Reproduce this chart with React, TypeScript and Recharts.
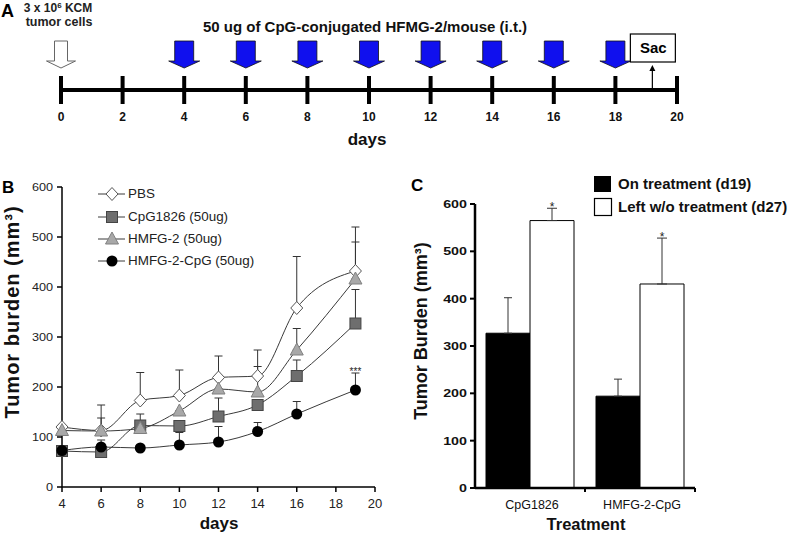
import React from "react";
import {
  Bar,
  BarChart,
  ErrorBar,
  LabelList,
  Line,
  LineChart,
  ReferenceDot,
  Scatter,
  ScatterChart,
  XAxis,
  YAxis,
} from "recharts";

const font = "'Liberation Sans', Arial, Helvetica, sans-serif";

// A: treatment schedule
const scheduleTicks = [0, 2, 4, 6, 8, 10, 12, 14, 16, 18, 20];
const tumorInjectionDays = [0];
const treatmentDays = [4, 6, 8, 10, 12, 14, 16, 18];
const sacrificeDays = [19.2];

// B: tumor growth
const days = [4, 6, 8, 10, 12, 14, 16, 19];
const dayTicks = [4, 6, 8, 10, 12, 14, 16, 18, 20];
const burdenTicks = [0, 100, 200, 300, 400, 500, 600];
const seriesNames = ["PBS", "CpG1826 (50ug)", "HMFG-2 (50ug)", "HMFG-2-CpG (50ug)"];
const pbs = [120, 113, 173, 183, 219, 222, 358, 432];
const pbsErr = [0, 51, 56, 51, 43, 52, 103, 88];
const cpg1826 = [72, 70, 123, 122, 141, 164, 222, 327];
const cpg1826Err = [0, 0, 23, 0, 37, 0, 32, 68];
const hmfg2 = [113, 112, 117, 152, 196, 190, 274, 416];
const hmfg2Err = [0, 26, 0, 0, 0, 51, 43, 74];
const hmfg2Cpg = [73, 80, 78, 84, 90, 111, 146, 194];
const hmfg2CpgErr = [0, 14, 0, 25, 31, 18, 25, 34];

// C: tumor burden by treatment
const treatments = ["CpG1826", "HMFG-2-CpG"];
const onTreatment = [327, 194];
const onTreatmentErr = [75, 36];
const leftUntreated = [565, 431];
const leftUntreatedErr = [26, 97];
const barTicks = [0, 100, 200, 300, 400, 500, 600];
const barSeriesNames = ["On treatment (d19)", "Left w/o treatment (d27)"];

const growthData = days.map((day, i) => ({
  day,
  pbs: pbs[i],
  pbsErr: [0, pbsErr[i]],
  cpg: cpg1826[i],
  cpgErr: [0, cpg1826Err[i]],
  hmfg: hmfg2[i],
  hmfgErr: [0, hmfg2Err[i]],
  conj: hmfg2Cpg[i],
  conjErr: [0, hmfg2CpgErr[i]],
}));

const barData = treatments.map((name, i) => ({
  name,
  on: onTreatment[i],
  onErr: [0, onTreatmentErr[i]],
  left: leftUntreated[i],
  leftErr: [0, leftUntreatedErr[i]],
}));

function Marker({ kind, cx, cy }: { kind: number; cx: number; cy: number }) {
  if (kind === 0)
    return (
      <polygon
        points={`${cx},${cy - 6.5} ${cx + 6},${cy} ${cx},${cy + 6.5} ${cx - 6},${cy}`}
        fill="#fff"
        stroke="#555"
      />
    );
  if (kind === 1)
    return <rect x={cx - 5.5} y={cy - 5.5} width={11} height={11} fill="#6e6e6e" stroke="#444" />;
  if (kind === 2)
    return (
      <polygon
        points={`${cx},${cy - 7} ${cx + 6.5},${cy + 5} ${cx - 6.5},${cy + 5}`}
        fill="#a8a8a8"
        stroke="#808080"
      />
    );
  return <circle cx={cx} cy={cy} r={5.5} fill="#000" />;
}

const dotFor = (kind: number) => (p: any) =>
  <Marker key={`m${kind}-${p.index}`} kind={kind} cx={p.cx} cy={p.cy} />;

const WhiteArrow = (p: any) => {
  const { cx, cy } = p;
  return (
    <polygon
      points={`${cx - 6.5},${cy - 49} ${cx + 6.5},${cy - 49} ${cx + 6.5},${cy - 29} ${cx + 14.5},${cy - 29} ${cx},${cy - 22} ${cx - 14.5},${cy - 29} ${cx - 6.5},${cy - 29}`}
      fill="#fff"
      stroke="#666"
    />
  );
};

const BlueArrow = (p: any) => {
  const { cx, cy } = p;
  return (
    <polygon
      points={`${cx - 9.5},${cy - 49} ${cx + 9.5},${cy - 49} ${cx + 9.5},${cy - 29} ${cx + 15.5},${cy - 29} ${cx},${cy - 22} ${cx - 15.5},${cy - 29} ${cx - 9.5},${cy - 29}`}
      fill="#1010ee"
      stroke="#111"
      strokeWidth={0.8}
    />
  );
};

const SacMark = (p: any) => {
  const { cx, cy } = p;
  return (
    <g>
      <line x1={cx} x2={cx} y1={cy} y2={cy - 20} stroke="#000" strokeWidth={1.2} />
      <polygon points={`${cx},${cy - 25} ${cx - 3},${cy - 19} ${cx + 3},${cy - 19}`} fill="#000" />
      <rect x={cx - 22} y={cy - 56} width={45} height={28} fill="#fff" stroke="#000" strokeWidth={1.2} />
      <text x={cx + 1} y={cy - 37} textAnchor="middle" fontSize={15} fontWeight="bold" fontFamily={font}>
        Sac
      </text>
    </g>
  );
};

const ScheduleTick = (p: any) => (
  <g>
    <line x1={p.x} x2={p.x} y1={p.y - 14} y2={p.y + 14} stroke="#000" strokeWidth={4} />
    <text x={p.x} y={p.y + 31} textAnchor="middle" fontSize={12} fontWeight="bold" fontFamily={font} fill="#111">
      {p.payload.value}
    </text>
  </g>
);

const GrowthYTick = (p: any) => (
  <g transform={`translate(${p.x},${p.y}) scale(1.15,1)`}>
    <text x={0} y={4} textAnchor="end" fontSize={11} fontFamily={font} fill="#222">
      {p.payload.value}
    </text>
  </g>
);

const GrowthXTick = (p: any) => (
  <text x={p.x} y={p.y + 12} textAnchor="middle" fontSize={13} fontFamily={font} fill="#222">
    {p.payload.value}
  </text>
);

const BarYTick = (p: any) => (
  <g transform={`translate(${p.x},${p.y}) scale(1.3,1)`}>
    <text x={0} y={4} textAnchor="end" fontSize={11} fontWeight="bold" fontFamily={font} fill="#111">
      {p.payload.value}
    </text>
  </g>
);

const BarXTick = (p: any) => (
  <g>
    <line x1={p.x + 55} x2={p.x + 55} y1={p.y} y2={p.y + 4} stroke="#000" strokeWidth={2} />
    <text x={p.x + 2} y={p.y + 21} textAnchor="middle" fontSize={12.5} fontFamily={font} fill="#111">
      {p.payload.value}
    </text>
  </g>
);

const starLabel = (p: any) => {
  const perUnit = p.height / leftUntreated[p.index];
  const capY = p.y - leftUntreatedErr[p.index] * perUnit;
  return (
    <text key={`s${p.index}`} x={p.x + p.width / 2} y={capY + 3} textAnchor="middle" fontSize={12} fontFamily={font} fill="#222">
      *
    </text>
  );
};

const tripleStar = (p: any) => (
  <text x={p.viewBox.x} y={p.viewBox.y + 2} textAnchor="middle" fontSize={10} fontFamily={font} fill="#222">
    ***
  </text>
);

export default function App() {
  const legendRows = [198, 221, 243, 265];
  return (
    <div
      style={{
        position: "absolute",
        left: 0,
        top: 0,
        width: 789,
        height: 534,
        background: "#fff",
        fontFamily: font,
        overflow: "hidden",
      }}
    >
      <div style={{ position: "absolute", left: 0, top: 0 }}>
        <ScatterChart width={789} height={160} margin={{ top: 10, right: 112, bottom: 40, left: 61 }}>
          <XAxis
            type="number"
            dataKey="day"
            domain={[0, 20]}
            ticks={scheduleTicks}
            height={30}
            tickSize={0}
            tickMargin={0}
            tickLine={false}
            axisLine={{ stroke: "#000", strokeWidth: 4 }}
            tick={ScheduleTick}
          />
          <YAxis type="number" dataKey="y" domain={[0, 1]} hide />
          <Scatter data={tumorInjectionDays.map((day) => ({ day, y: 0 }))} shape={WhiteArrow} isAnimationActive={false} />
          <Scatter data={treatmentDays.map((day) => ({ day, y: 0 }))} shape={BlueArrow} isAnimationActive={false} />
          <Scatter data={sacrificeDays.map((day) => ({ day, y: 0 }))} shape={SacMark} isAnimationActive={false} />
        </ScatterChart>
      </div>

      <div style={{ position: "absolute", left: 0, top: 160 }}>
        <LineChart width={390} height={374} data={growthData} margin={{ top: 27, right: 15, bottom: 17, left: 22 }}>
          <XAxis
            type="number"
            dataKey="day"
            domain={[4, 20]}
            ticks={dayTicks}
            height={30}
            tickSize={5}
            tickMargin={4}
            axisLine={{ stroke: "#000", strokeWidth: 1.5 }}
            tickLine={{ stroke: "#000", strokeWidth: 1.5 }}
            tick={GrowthXTick}
          />
          <YAxis
            type="number"
            domain={[0, 600]}
            ticks={burdenTicks}
            width={40}
            tickSize={5}
            tickMargin={4}
            axisLine={{ stroke: "#000", strokeWidth: 1.5 }}
            tickLine={{ stroke: "#000", strokeWidth: 1.5 }}
            tick={GrowthYTick}
          />
          <Line type="monotone" dataKey="pbs" stroke="#3a3a3a" strokeWidth={1} dot={dotFor(0)} isAnimationActive={false}>
            <ErrorBar dataKey="pbsErr" width={4} stroke="#333" strokeWidth={1} direction="y" />
          </Line>
          <Line type="monotone" dataKey="cpg" stroke="#3a3a3a" strokeWidth={1} dot={dotFor(1)} isAnimationActive={false}>
            <ErrorBar dataKey="cpgErr" width={4} stroke="#333" strokeWidth={1} direction="y" />
          </Line>
          <Line type="monotone" dataKey="hmfg" stroke="#3a3a3a" strokeWidth={1} dot={dotFor(2)} isAnimationActive={false}>
            <ErrorBar dataKey="hmfgErr" width={4} stroke="#333" strokeWidth={1} direction="y" />
          </Line>
          <Line type="monotone" dataKey="conj" stroke="#3a3a3a" strokeWidth={1} dot={dotFor(3)} isAnimationActive={false}>
            <ErrorBar dataKey="conjErr" width={4} stroke="#333" strokeWidth={1} direction="y" />
          </Line>
          <ReferenceDot
            x={days[days.length - 1]}
            y={hmfg2Cpg[hmfg2Cpg.length - 1] + hmfg2CpgErr[hmfg2CpgErr.length - 1]}
            r={0}
            stroke="none"
            fill="none"
            label={tripleStar}
          />
        </LineChart>
      </div>

      <div style={{ position: "absolute", left: 385, top: 160 }}>
        <BarChart
          width={404}
          height={374}
          data={barData}
          margin={{ top: 44, right: 94, bottom: 16, left: 40 }}
          barCategoryGap="10%"
          barGap={0}
        >
          <XAxis
            dataKey="name"
            height={30}
            tickSize={0}
            tickMargin={0}
            tickLine={false}
            axisLine={{ stroke: "#000", strokeWidth: 2.5 }}
            tick={BarXTick}
          />
          <YAxis
            type="number"
            domain={[0, 600]}
            ticks={barTicks}
            width={50}
            tickSize={5}
            tickMargin={3}
            axisLine={{ stroke: "#000", strokeWidth: 2.5 }}
            tickLine={{ stroke: "#000", strokeWidth: 2 }}
            tick={BarYTick}
          />
          <Bar dataKey="on" fill="#000" stroke="#000" strokeWidth={1} isAnimationActive={false}>
            <ErrorBar dataKey="onErr" width={4} stroke="#333" strokeWidth={1} direction="y" />
          </Bar>
          <Bar dataKey="left" fill="#fff" stroke="#000" strokeWidth={1} isAnimationActive={false}>
            <ErrorBar dataKey="leftErr" width={5} stroke="#333" strokeWidth={1} direction="y" />
            <LabelList dataKey="left" content={starLabel} />
          </Bar>
        </BarChart>
      </div>

      <svg
        width={789}
        height={534}
        style={{ position: "absolute", left: 0, top: 0, pointerEvents: "none" }}
        fontFamily={font}
      >
        {/* panel A texts */}
        <text x={1} y={17} fontSize={18} fontWeight="bold">A</text>
        <text x={58} y={12} textAnchor="middle" fontSize={12} fontWeight="bold" fill="#222">
          3 x 10<tspan dy={-4} fontSize={8}>6</tspan>
          <tspan dy={4}> KCM</tspan>
        </text>
        <text x={59} y={26} textAnchor="middle" fontSize={12.5} fontWeight="bold" fill="#222">
          tumor cells
        </text>
        <text x={365} y={32} textAnchor="middle" fontSize={15} fontWeight="bold" fill="#111">
          50 ug of CpG-conjugated HFMG-2/mouse (i.t.)
        </text>
        <text x={367} y={145} textAnchor="middle" fontSize={17} fontWeight="bold" fill="#111">
          days
        </text>

        {/* panel B texts */}
        <text x={2} y={193} fontSize={17} fontWeight="bold">B</text>
        <text
          transform="rotate(-90)"
          x={-312}
          y={19}
          textAnchor="middle"
          fontSize={20}
          fontWeight="bold"
          letterSpacing={1}
          fill="#111"
        >
          Tumor burden (mm³)
        </text>
        <text x={219} y={529} textAnchor="middle" fontSize={17} fontWeight="bold" fill="#111">
          days
        </text>
        {seriesNames.map((name, i) => (
          <g key={name}>
            <line x1={98} x2={125} y1={legendRows[i] - 4} y2={legendRows[i] - 4} stroke="#3a3a3a" />
            <Marker kind={i} cx={112} cy={legendRows[i] - 4} />
            <g transform={`translate(128,${legendRows[i]}) scale(1.12,1)`}>
              <text x={0} y={0} fontSize={12} fill="#222">
                {name}
              </text>
            </g>
          </g>
        ))}

        {/* panel C texts */}
        <text x={411} y={191} fontSize={17} fontWeight="bold">C</text>
        <text
          transform="rotate(-90)"
          x={-331}
          y={427}
          textAnchor="middle"
          fontSize={18}
          fontWeight="bold"
          fill="#111"
        >
          Tumor Burden (mm³)
        </text>
        <text x={586} y={530} textAnchor="middle" fontSize={16.5} fontWeight="bold" fill="#111">
          Treatment
        </text>
        <rect x={594} y={176} width={17} height={16} fill="#000" />
        <rect x={594.5} y={198.5} width={17} height={17} fill="#fff" stroke="#000" strokeWidth={1.2} />
        <text x={618} y={189} fontSize={15} fontWeight="bold" fill="#111">
          {barSeriesNames[0]}
        </text>
        <text x={618} y={212} fontSize={15} fontWeight="bold" fill="#111">
          {barSeriesNames[1]}
        </text>
      </svg>
    </div>
  );
}
